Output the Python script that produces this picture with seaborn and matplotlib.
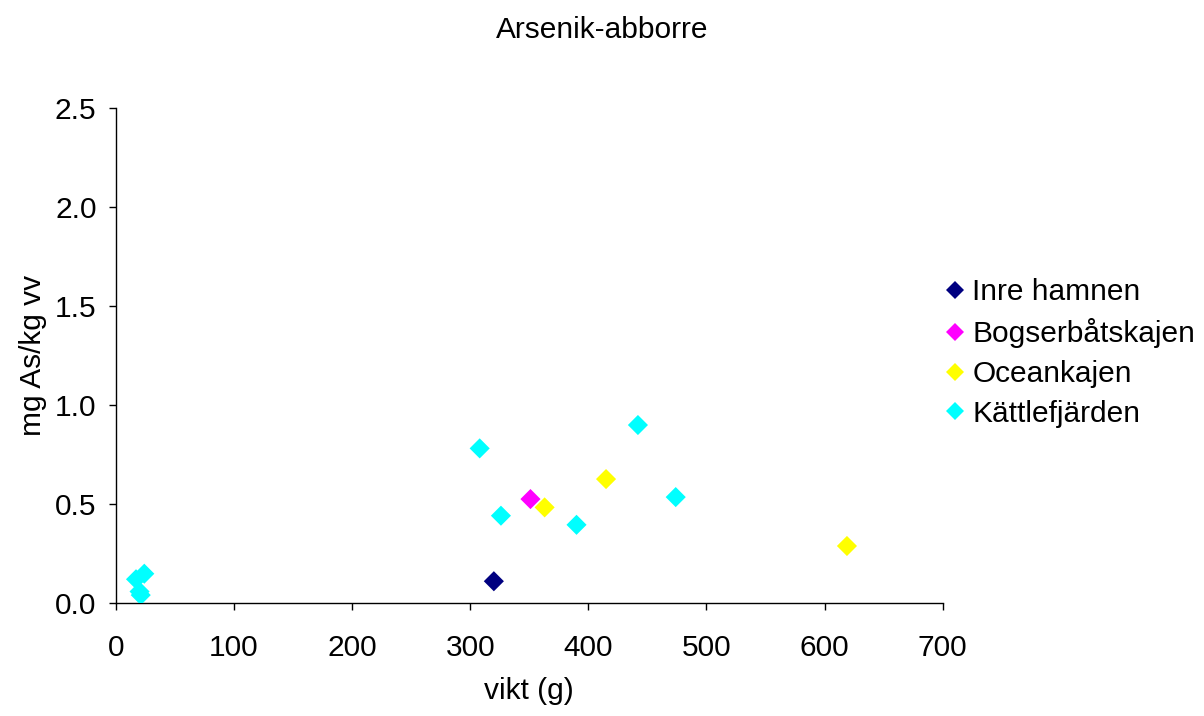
import matplotlib
matplotlib.use("Agg")
import matplotlib.pyplot as plt
import seaborn as sns
import pandas as pd

# Perch samples: weight (g) and arsenic concentration (mg As/kg wet weight) per site
sites = ["Inre hamnen", "Bogserbåtskajen", "Oceankajen", "Kättlefjärden"]

inre_vikt = [320]
inre_as = [0.11]

bogser_vikt = [351]
bogser_as = [0.525]

ocean_vikt = [363, 415, 619]
ocean_as = [0.483, 0.626, 0.288]

kattle_vikt = [17, 24, 20, 21, 308, 326, 390, 442, 474]
kattle_as = [0.12, 0.148, 0.058, 0.04, 0.781, 0.441, 0.395, 0.899, 0.535]

colors = ["#000080", "#FF00FF", "#FFFF00", "#00FFFF"]

frames = []
for site, v, a in [(sites[0], inre_vikt, inre_as),
                   (sites[1], bogser_vikt, bogser_as),
                   (sites[2], ocean_vikt, ocean_as),
                   (sites[3], kattle_vikt, kattle_as)]:
    frames.append(pd.DataFrame({"vikt": v, "as": a, "site": site}))
df = pd.concat(frames, ignore_index=True)

sns.set_style("white")
plt.rcParams["font.family"] = ["Liberation Sans", "DejaVu Sans"]
plt.rcParams["text.color"] = "black"
plt.rcParams["axes.labelcolor"] = "black"
plt.rcParams["xtick.color"] = "black"
plt.rcParams["ytick.color"] = "black"

FS = 21.5

fig = plt.figure(figsize=(12.04, 7.16), dpi=100)
ax = fig.add_axes([0.0963, 0.1578, 0.6866, 0.6913])

sns.scatterplot(data=df, x="vikt", y="as", hue="site", hue_order=sites,
                palette=dict(zip(sites, colors)), marker="D", s=105,
                linewidth=0, ax=ax, legend=True, zorder=3)

ax.set_xlim(0, 700)
ax.set_ylim(0, 2.5)
ax.set_xticks(range(0, 701, 100))
ax.set_yticks([0, 0.5, 1.0, 1.5, 2.0, 2.5])
ax.set_yticklabels([f"{v:.1f}" for v in [0, 0.5, 1.0, 1.5, 2.0, 2.5]])

for side in ["top", "right"]:
    ax.spines[side].set_visible(False)
for side in ["left", "bottom"]:
    ax.spines[side].set_color("black")
    ax.spines[side].set_linewidth(1.0)

ax.tick_params(axis="both", direction="out", length=5, width=1.0,
               color="black", labelsize=FS, bottom=True, left=True)
ax.tick_params(axis="x", pad=17)
ax.tick_params(axis="y", pad=9)

ax.set_xlabel("vikt (g)", fontsize=FS, labelpad=11)
ax.set_ylabel("mg As/kg vv", fontsize=FS, labelpad=6)
fig.suptitle("Arsenik-abborre", fontsize=FS, y=0.978, x=0.5)

handles, labels = ax.get_legend_handles_labels()
ax.legend(handles, labels, loc="center left", bbox_to_anchor=(0.768, 0.507),
          bbox_transform=fig.transFigure, frameon=False, fontsize=FS,
          handletextpad=0.0, labelspacing=0.4, markerscale=0.85,
          borderaxespad=0, handlelength=1.2)

fig.savefig("out.png", dpi=100, facecolor="white")
